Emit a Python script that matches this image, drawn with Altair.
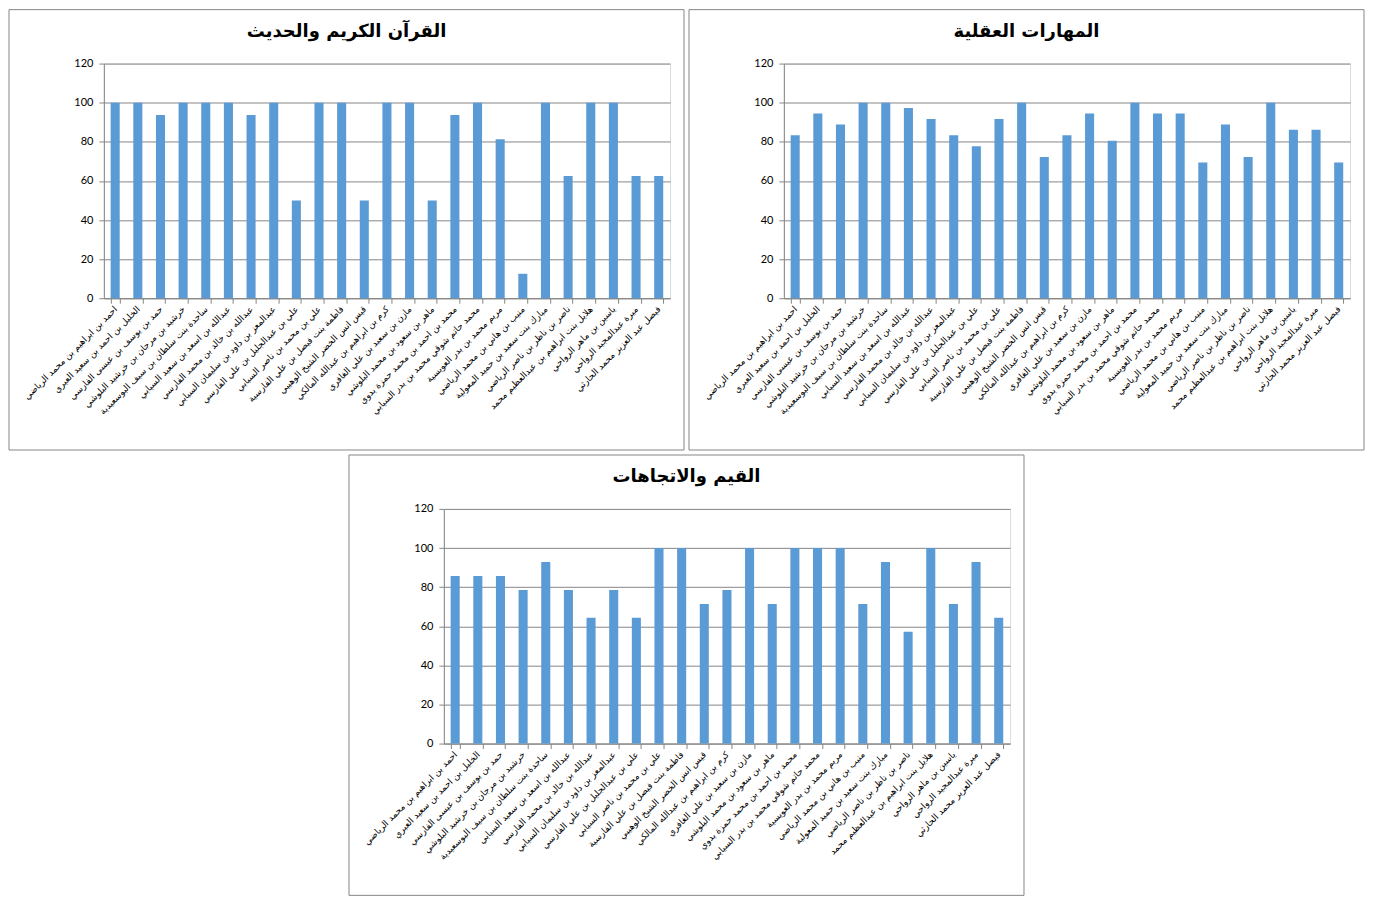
import altair as alt
import pandas as pd

names = [
    "احمد بن ابراهيم بن محمد الرياضي",
    "الخليل بن احمد بن سعيد العبري",
    "حمد بن يوسف بن عيسى الفارسي",
    "خرشيد بن مرجان بن خرشيد البلوشي",
    "ساجدة بنت سلطان بن سيف البوسعيدية",
    "عبدالله بن اسعد بن سعيد السيابي",
    "عبدالله بن خالد بن محمد الفارسي",
    "عبدالمعز بن داود بن سليمان السيابي",
    "علي بن عبدالجليل بن علي الفارسي",
    "علي بن محمد بن ناصر السيابي",
    "فاطمة بنت فيصل بن علي الفارسية",
    "قيس انس الخضر الشيخ الوهيبي",
    "كرم بن ابراهيم بن عبدالله المالكي",
    "مازن بن سعيد بن علي الغافري",
    "ماهر بن سعود بن محمد البلوشي",
    "محمد بن احمد بن محمد حمزة بدوي",
    "محمد حاتم شوقي محمد بن بدر السيابي",
    "مريم محمد بن بدر العويسية",
    "منيب بن هاني بن محمد الرياضي",
    "مبارك بنت سعيد بن حميد المعولية",
    "ناصر بن ناظر بن ناصر الرياضي",
    "هلايل بنت ابراهيم بن عبدالعظيم محمد",
    "ياسين بن ماهر الرواحي",
    "ميرة عبدالمجيد الرواحي",
    "فيصل عبد العزيز محمد الحارثي",
]

quran = [100, 100, 93.75, 100, 100, 100, 93.75, 100, 50, 100, 100, 50, 100,
         100, 50, 93.75, 100, 81.25, 12.5, 100, 62.5, 100, 100, 62.5, 62.5]
skills = [83.33, 94.44, 88.89, 100, 100, 97.22, 91.67, 83.33, 77.78, 91.67, 100,
          72.22, 83.33, 94.44, 80.56, 100, 94.44, 94.44, 69.44, 88.89, 72.22,
          100, 86.11, 86.11, 69.44]
values_att = [85.71, 85.71, 85.71, 78.57, 92.86, 78.57, 64.29, 78.57, 64.29, 100,
              100, 71.43, 78.57, 100, 71.43, 100, 100, 100, 71.43, 92.86, 57.14,
              100, 71.43, 92.86, 64.29]

titles = ["القرآن الكريم والحديث", "المهارات العقلية", "القيم والاتجاهات"]
y_ticks = [0, 20, 40, 60, 80, 100, 120]

W, H = 567, 235
GRAY = "#868686"
FL, FR, FT, FB = -95, W + 14, -54, H + 152  # panel frame, relative to plot area


def panel(title, vals):
    df = pd.DataFrame({"name": names, "score": vals})
    bars = alt.Chart(df).mark_bar(color="#5B9BD5").encode(
        x=alt.X(
            "name:N", sort=None, title=None,
            scale=alt.Scale(paddingInner=0.6, paddingOuter=0.3),
            axis=alt.Axis(
                labelAngle=-45, labelAlign="right", labelBaseline="middle",
                labelFont="DejaVu Sans", labelFontSize=9,
                labelColor="#000000", labelLimit=400, labelOverlap=False,
                labelPadding=4, tickBand="extent", tickColor=GRAY,
                tickSize=5, domainColor=GRAY, grid=False,
            ),
        ),
        y=alt.Y(
            "score:Q", title=None,
            scale=alt.Scale(domain=[0, 120], nice=False),
            axis=alt.Axis(
                values=y_ticks, grid=True, gridColor=GRAY, gridOpacity=1,
                domainColor=GRAY, tickColor=GRAY, tickSize=5,
                labelFont="Lato", labelFontSize=11, labelColor="#000000",
                labelPadding=6,
            ),
        ),
    )
    one = pd.DataFrame({"t": [title]})
    frame = alt.Chart(one).mark_rect(
        fill="white", fillOpacity=0, stroke=GRAY, strokeWidth=1
    ).encode(
        x=alt.value(FL), x2=alt.value(FR),
        y=alt.value(FT), y2=alt.value(FB),
    )
    head = alt.Chart(one).mark_text(
        font="DejaVu Sans", fontSize=18, fontWeight="bold", color="#000000",
        align="center", baseline="middle",
    ).encode(
        text="t:N", x=alt.value((FL + FR) / 2), y=alt.value(-32),
    )
    return alt.layer(frame, bars, head).properties(width=W, height=H)


p1 = panel(titles[0], quran)
p2 = panel(titles[1], skills)
p3 = panel(titles[2], values_att)

top = alt.hconcat(p1, p2, spacing=3)
chart = alt.vconcat(top, p3, spacing=3, center=True).properties(
    padding=0
).configure_view(strokeWidth=0).configure(background="white")

chart.save("out.html", embed_options={"renderer": "svg", "actions": False})
